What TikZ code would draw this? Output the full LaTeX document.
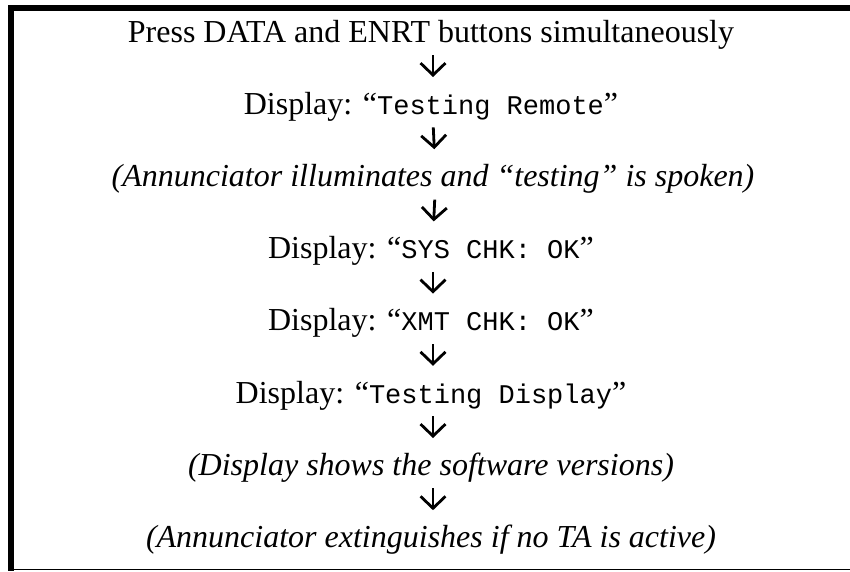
\documentclass[tikz,border=0pt]{standalone}
\usepackage{fontspec}
\setmainfont{Liberation Serif}
\setmonofont{Liberation Mono}
\usetikzlibrary{arrows.meta}
\newcommand{\mymono}[1]{{\fontsize{27}{32}\selectfont\ttfamily #1}}
\tikzset{
  stepnode/.style={anchor=base, inner sep=0pt, text height=22pt, text depth=7pt,
    font=\fontsize{32}{38}\selectfont},
  flowarrow/.style={-{Straight Barb[length=12pt,width=25pt,line width=2.8pt]},
    line width=2.8pt, shorten <=6pt, shorten >=15pt},
  frameline/.style={line width=6pt}
}
\begin{document}
\begin{tikzpicture}[x=1pt,y=-1pt]
\useasboundingbox (0,0) rectangle (850,571);
% frame
\draw[frameline] (11,5) -- (11,571);
\draw[frameline] (8,8) -- (850,8);
\draw[line width=1.3pt] (14,569.5) -- (850,569.5);
% steps
\node[stepnode] (s1) at (431,42) {Press DATA and ENRT buttons simultaneously};
\node[stepnode] (s2) at (431,114.2) {Display: “\mymono{Testing Remote}”};
\node[stepnode] (s3) at (433,186.4) {\itshape (Annunciator illuminates and “testing” is spoken)};
\node[stepnode] (s4) at (431,258.6) {Display: “\mymono{SYS CHK: OK}”};
\node[stepnode] (s5) at (431,330.8) {Display: “\mymono{XMT CHK: OK}”};
\node[stepnode] (s6) at (431,403) {Display: “\mymono{Testing Display}”};
\node[stepnode] (s7) at (431,475.2) {\itshape (Display shows the software versions)};
\node[stepnode] (s8) at (431,547.4) {\itshape (Annunciator extinguishes if no TA is active)};
\foreach \a/\b in {s1/s2,s2/s3,s3/s4,s4/s5,s5/s6,s6/s7,s7/s8}{
  \draw[flowarrow] ([xshift=2pt]\a.south) -- ([xshift=2pt]\b.north);
}
\end{tikzpicture}
\end{document}
